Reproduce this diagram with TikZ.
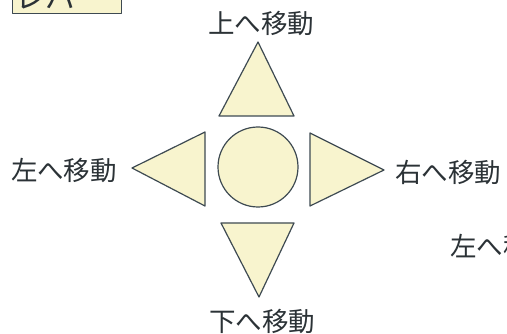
\documentclass[tikz,border=0pt]{standalone}
\usepackage{fontspec}
\newfontfamily\jp{Noto Sans CJK JP}
\definecolor{fillc}{HTML}{F8F4CE}
\definecolor{linec}{HTML}{3E4A52}
\definecolor{txtc}{HTML}{2B3236}
\begin{document}
\begin{tikzpicture}[x=1pt,y=-1pt,
  shapebox/.style={draw=linec, fill=fillc, line width=1.2pt, line join=round},
  lab/.style={text=txtc, font=\jp\fontsize{26.5}{26.5}\selectfont, inner sep=0pt}]
\useasboundingbox (0,0) rectangle (507,334);
\clip (0,0) rectangle (507,334);
\fill[white] (0,0) rectangle (507,334);
% lever box (clipped at top)
\node[shapebox, line width=0.8pt, minimum width=109pt, minimum height=40pt, anchor=south west, inner sep=0pt] (lever) at (12,14) {};
\node[lab, font=\jp\fontsize{30}{30}\selectfont, anchor=base west] (levertext) at (15,8.5) {レバ};
% shapes
\coordinate (ua) at (258,42); \coordinate (ub1) at (219,116); \coordinate (ub2) at (294,116);
\draw[shapebox] (ua) -- (ub1) -- (ub2) -- cycle;
\coordinate (la) at (132,168); \coordinate (lb1) at (205,132); \coordinate (lb2) at (205,206);
\draw[shapebox] (la) -- (lb1) -- (lb2) -- cycle;
\coordinate (ra) at (384,170); \coordinate (rb1) at (310,133); \coordinate (rb2) at (310,206);
\draw[shapebox] (ra) -- (rb1) -- (rb2) -- cycle;
\coordinate (da) at (259,297); \coordinate (db1) at (221,223); \coordinate (db2) at (294,223);
\draw[shapebox] (da) -- (db1) -- (db2) -- cycle;
\node[shapebox, circle, minimum size=80pt, inner sep=0pt] (c) at (258,167) {};
% labels
\node[lab] (up) at (261,23) {上へ移動};
\node[lab] (left) at (64,170) {左へ移動};
\node[lab] (right) at (448,172) {右へ移動};
\node[lab] (down) at (262,321) {下へ移動};
\node[lab, anchor=west] (left2) at (450,246) {左へ移動};
\end{tikzpicture}
\end{document}
